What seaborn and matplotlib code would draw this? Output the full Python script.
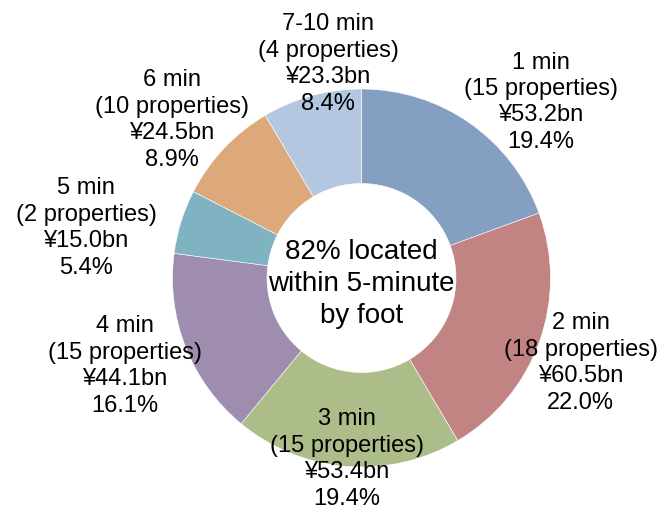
import matplotlib
matplotlib.use("Agg")
import matplotlib.pyplot as plt
import seaborn as sns

minutes = ["1 min", "2 min", "3 min", "4 min", "5 min", "6 min", "7-10 min"]
properties = [15, 18, 15, 15, 2, 10, 4]
value_bn = [53.2, 60.5, 53.4, 44.1, 15.0, 24.5, 23.3]
share_pct = [19.4, 22.0, 19.4, 16.1, 5.4, 8.9, 8.4]
center_text = "82% located\nwithin 5-minute\nby foot"

colors = ["#849FC1", "#C18482", "#ADBD8A", "#9E8DAF", "#7FB3C2", "#DDA97B", "#B4C7E1"]

# label anchor points (data units, pie radius = 1)
label_xy = [(0.95, 0.93), (1.16, -0.45), (-0.077, -0.958), (-1.251, -0.466),
            (-1.458, 0.265), (-1.003, 0.836), (-0.177, 1.132)]

sns.set_theme(style="white")
plt.rcParams["font.family"] = ["Liberation Sans", "DejaVu Sans"]

fig = plt.figure(figsize=(6.59, 5.11), dpi=100)
ax = fig.add_axes([0, 0, 1, 1])

wedges, _ = ax.pie(value_bn, colors=sns.color_palette(colors), startangle=90,
                   counterclock=False, radius=1,
                   wedgeprops=dict(width=0.5, edgecolor="white", linewidth=0.4))

for i, (x, y) in enumerate(label_xy):
    txt = f"{minutes[i]}\n({properties[i]} properties)\n¥{value_bn[i]:.1f}bn\n{share_pct[i]:.1f}%"
    ax.text(x, y, txt, ha="center", va="center", fontsize=17,
            linespacing=1.26, color="black")

ax.text(0, -0.03, center_text, ha="center", va="center", fontsize=20,
        linespacing=1.3, color="black")

cx, cy, r = 361.5, 278, 189
ax.set_xlim(-cx / r, (659 - cx) / r)
ax.set_ylim(-(511 - cy) / r, cy / r)
ax.axis("off")

fig.savefig("out.png", dpi=100)
